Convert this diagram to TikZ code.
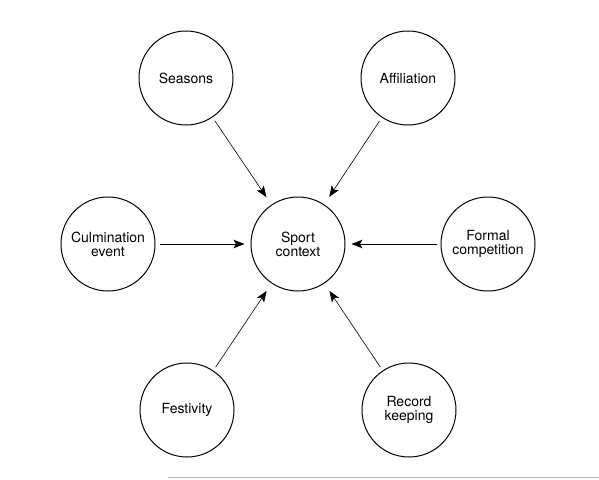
\documentclass[tikz,border=0pt]{standalone}
\usepackage{fontspec}
\setmainfont{TeX Gyre Heros}
\usetikzlibrary{arrows.meta,positioning}

\begin{document}
\begin{tikzpicture}[
    x=1pt, y=-1pt,
    node distance=190pt,
    factor/.style={draw, circle, line width=1pt, minimum size=94pt, inner sep=0pt, align=center, font=\fontsize{14}{14}\selectfont},
    hub/.style={factor},
    arrow/.style={-{Stealth[length=11pt, width=8.5pt, inset=2.5pt]}, line width=0.6pt, shorten <=4pt, shorten >=9pt}
]
\useasboundingbox (0,0) rectangle (599,479);

% Central node
\node[hub] (sport) at (298,244) {Sport\\context};

% Factors on the horizontal axis
\node[factor, left of=sport] (culmination) {Culmination\\event};
\node[factor, right of=sport] (formal) {Formal\\competition};

% Factors above and below
\node[factor] (seasons) at (186,78) {Seasons};
\node[factor] (affiliation) at (408,78) {Affiliation};
\node[factor] (festivity) at (187,410) {Festivity};
\node[factor] (record) at (409,410) {Record\\keeping};

% Connections into the sport context
\draw[arrow] (seasons) -- (sport);
\draw[arrow] (affiliation) -- (sport);
\draw[arrow, shorten >=6pt] (culmination) -- (sport);
\draw[arrow, shorten >=6pt] (formal) -- (sport);
\draw[arrow] (festivity) -- (sport);
\draw[arrow] (record) -- (sport);

% Rule at the foot of the page
\draw[gray!60, line width=0.8pt] (168,477) -- (599,477);

\end{tikzpicture}
\end{document}
